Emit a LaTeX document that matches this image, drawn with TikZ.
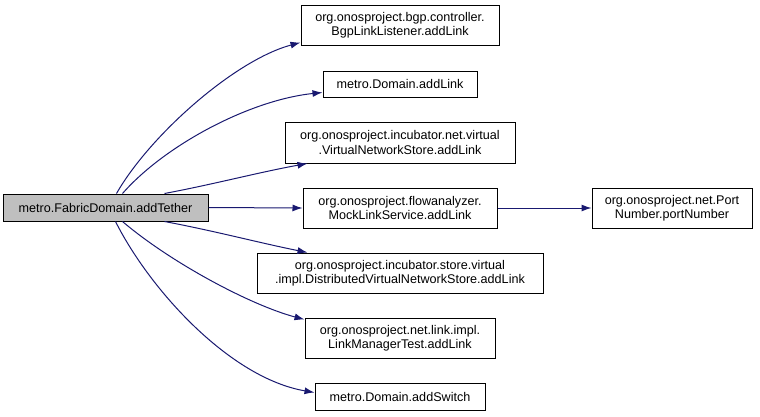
\documentclass[tikz,border=0pt]{standalone}
\usepackage{fontspec}
\setmainfont{Liberation Sans}
\usepackage{tikz}
\usetikzlibrary{arrows.meta}

\definecolor{edgeblue}{RGB}{25,25,112}
\definecolor{srcgray}{RGB}{191,191,191}

\begin{document}
\begin{tikzpicture}[x=1pt,y=-1pt,
      fn/.style={draw,line width=1pt,inner sep=0pt,align=center,
        font=\fontsize{12.6}{14.5}\selectfont},
      call/.style={draw=edgeblue,line width=1pt,
        -{Latex[length=10pt,width=7pt]}}]
    \useasboundingbox (0,0) rectangle (760,416);
    \node[fn,fill=srcgray,minimum width=205pt,minimum height=27pt] (tether) at (105.5,207.5) {metro.FabricDomain.addTether};
    % callees, one column
    \node[fn,minimum width=198pt,minimum height=40pt] (bgp) at (400,25) {org.onosproject.bgp.controller.\\BgpLinkListener.addLink};
    \node[fn,minimum width=154pt,minimum height=26pt] (domlink) at (400,84) {metro.Domain.addLink};
    \node[fn,minimum width=230pt,minimum height=41pt] (vnstore) at (400,142.5) {org.onosproject.incubator.net.virtual\\.VirtualNetworkStore.addLink};
    \node[fn,minimum width=194pt,minimum height=40pt] (mock) at (400,208) {org.onosproject.flowanalyzer.\\MockLinkService.addLink};
    \node[fn,minimum width=286pt,minimum height=40pt] (dvnstore) at (400,273) {org.onosproject.incubator.store.virtual\\.impl.DistributedVirtualNetworkStore.addLink};
    \node[fn,minimum width=190pt,minimum height=40pt] (lmtest) at (400,338) {org.onosproject.net.link.impl.\\LinkManagerTest.addLink};
    \node[fn,minimum width=170pt,minimum height=27pt] (domswitch) at (400,396.5) {metro.Domain.addSwitch};
    \node[fn,minimum width=160pt,minimum height=40pt] (port) at (672,208) {org.onosproject.net.Port\\Number.portNumber};
    % edges above the source
    \draw[call] ([xshift=11pt]tether.north) .. controls (150,135) and (235,60) .. ([yshift=3pt]bgp.south west);
    \draw[call] ([xshift=17pt]tether.north) .. controls (165,145) and (250,100) .. ([yshift=5pt]domlink.south west);
    \draw[call] ([xshift=59pt]tether.north) .. controls (215,184) and (260,172) .. ([xshift=23pt]vnstore.south west);
    \draw[call] (tether.east) -- (mock.west);
    % edges below the source
    \draw[call] ([xshift=59pt]tether.south) .. controls (215,231) and (260,243) .. ([xshift=51pt]dvnstore.north west);
    \draw[call] ([xshift=17pt]tether.south) .. controls (170,262) and (250,305) .. ([yshift=-2pt]lmtest.north west);
    \draw[call] ([xshift=10pt]tether.south) .. controls (150,290) and (230,378) .. ([yshift=4pt]domswitch.west);
    \draw[call] (mock.east) -- (port.west);
  \end{tikzpicture}
\end{document}
